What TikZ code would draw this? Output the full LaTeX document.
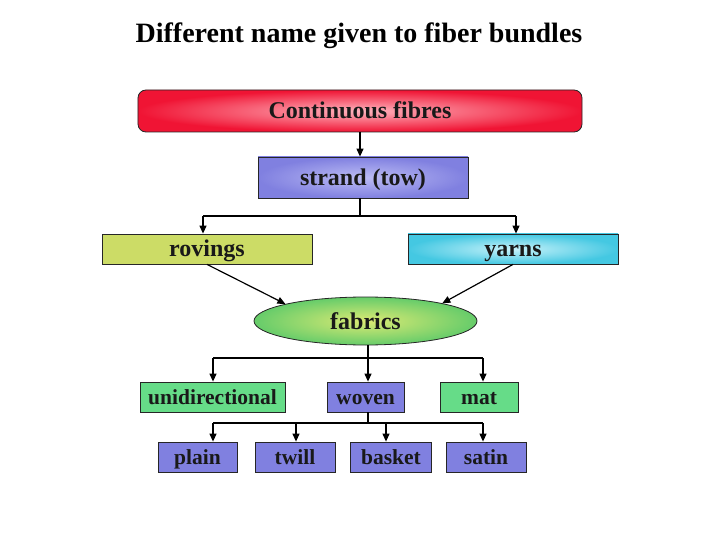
\documentclass[tikz,border=0pt]{standalone}
\usepackage{fontspec}
\setmainfont{Liberation Serif}
\usetikzlibrary{shapes.geometric,arrows.meta}
\definecolor{cfred}{HTML}{F01434}
\definecolor{cfpink}{HTML}{FFB4BE}
\definecolor{stblue}{HTML}{8080E0}
\definecolor{stlight}{HTML}{BCBCF4}
\definecolor{rovcol}{HTML}{CCDC66}
\definecolor{yarncol}{HTML}{44C8E2}
\definecolor{yarnlight}{HTML}{C8F2FA}
\definecolor{fabgreen}{HTML}{66CC6A}
\definecolor{fabyellow}{HTML}{DCEA74}
\definecolor{boxgreen}{HTML}{66DC88}
\definecolor{boxblue}{HTML}{8080E0}
\begin{document}
\begin{tikzpicture}[x=1bp,y=-1bp,
  box/.style={draw=black!85,line width=0.8bp,inner sep=0pt,font=\fontsize{24bp}{28bp}\selectfont\bfseries,text=black!90,text height=18bp,text depth=2bp},
  smallbox/.style={box,font=\fontsize{21.5bp}{25bp}\selectfont\bfseries,minimum height=30bp,text height=17bp,text depth=2bp},
  conn/.style={line width=1.2bp,black},
  arr/.style={conn,-{Triangle[length=8bp,width=7bp]}}]
\useasboundingbox (0,0) rectangle (720,540);
\node[anchor=base] (title) at (359,43) {\fontsize{28bp}{32bp}\selectfont\bfseries Different name given to fiber bundles};
\node[box,rounded corners=8bp,minimum width=444bp,minimum height=42bp,inner color=cfpink,outer color=cfred] (cf) at (360,111) {Continuous fibres};
\node[box,minimum width=210bp,minimum height=41bp,inner color=stlight,outer color=stblue] (strand) at (363,177.5) {strand (tow)};
\node[box,minimum width=210bp,minimum height=30bp,fill=rovcol] (rovings) at (207,249) {rovings};
\node[box,minimum width=210bp,minimum height=30bp,inner color=yarnlight,outer color=yarncol] (yarns) at (513,249) {yarns};
\node[box,ellipse,minimum width=223bp,minimum height=48bp,inner color=fabyellow,outer color=fabgreen] (fabrics) at (365.5,321) {fabrics};
\node[smallbox,minimum width=145bp,fill=boxgreen] (uni) at (212.5,397) {unidirectional};
\node[smallbox,minimum width=77bp,fill=boxblue] (woven) at (365.5,397) {woven};
\node[smallbox,minimum width=78bp,fill=boxgreen] (mat) at (479,397) {mat};
\node[smallbox,minimum width=79bp,fill=boxblue] (plain) at (197.5,457) {plain};
\node[smallbox,minimum width=80bp,fill=boxblue] (twill) at (295,457) {twill};
\node[smallbox,minimum width=81bp,fill=boxblue] (basket) at (391,457) {basket};
\node[smallbox,minimum width=80bp,fill=boxblue] (satin) at (486,457) {satin};
% connectors
\coordinate (c0) at (360,132);
\draw[arr] (c0) -- (c0 |- strand.north);
\coordinate (s0) at (360,198);
\coordinate (h0) at (360,216);
\coordinate (h0l) at (203,216);
\coordinate (h0r) at (516,216);
\draw[conn] (s0) -- (h0);
\draw[conn] (h0l) -- (h0r);
\draw[arr] (h0l) -- (h0l |- rovings.north);
\draw[arr] (h0r) -- (h0r |- yarns.north);
\draw[arr] (rovings.south) -- (fabrics.168);
\draw[arr] (yarns.south) -- (fabrics.13);
\coordinate (f0) at (368,345);
\coordinate (h1) at (368,358);
\coordinate (h1l) at (213,358);
\coordinate (h1r) at (483,358);
\draw[conn] (f0) -- (h1);
\draw[conn] (h1l) -- (h1r);
\draw[arr] (h1l) -- (h1l |- uni.north);
\draw[arr] (h1) -- (h1 |- woven.north);
\draw[arr] (h1r) -- (h1r |- mat.north);
\coordinate (w0) at (368,412);
\coordinate (h2) at (368,423);
\coordinate (h2l) at (213,423);
\coordinate (h2t) at (296,423);
\coordinate (h2b) at (386,423);
\coordinate (h2r) at (483,423);
\draw[conn] (w0) -- (h2);
\draw[conn] (h2l) -- (h2r);
\draw[arr] (h2l) -- (h2l |- plain.north);
\draw[arr] (h2t) -- (h2t |- twill.north);
\draw[arr] (h2b) -- (h2b |- basket.north);
\draw[arr] (h2r) -- (h2r |- satin.north);
\end{tikzpicture}
\end{document}
